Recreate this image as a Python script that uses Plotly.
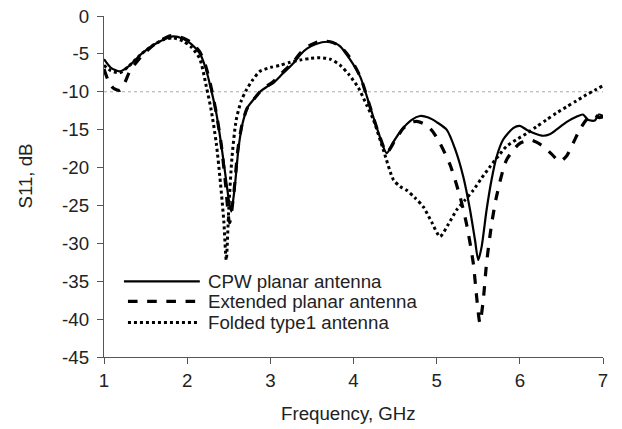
import plotly.graph_objects as go

# CPW planar antenna (solid)
cpw_f = [1.0, 1.08, 1.19, 1.3, 1.45, 1.6, 1.72, 1.83, 1.95, 2.05, 2.15, 2.22, 2.29, 2.35, 2.41, 2.46, 2.5, 2.53, 2.57, 2.62, 2.67, 2.73, 2.8, 2.875, 2.95, 3.03, 3.15, 3.28, 3.36, 3.44, 3.55, 3.68, 3.78, 3.84, 3.95, 4.08, 4.2, 4.3, 4.4, 4.48, 4.58, 4.7, 4.8, 4.9, 5.0, 5.12, 5.22, 5.32, 5.4, 5.46, 5.5, 5.54, 5.6, 5.66, 5.72, 5.8, 5.92, 6.0, 6.08, 6.18, 6.28, 6.36, 6.44, 6.56, 6.68, 6.76, 6.82, 6.9, 6.95, 7.0]
cpw_db = [-5.7, -6.8, -7.3, -6.6, -5.0, -3.8, -3.1, -2.7, -3.0, -3.7, -4.9, -6.8, -9.8, -12.8, -17.0, -21.0, -24.2, -25.8, -22.8, -17.2, -14.0, -12.0, -11.0, -10.0, -9.4, -8.9, -7.6, -6.2, -5.1, -4.3, -3.7, -3.4, -3.6, -4.0, -5.6, -8.0, -12.0, -15.4, -18.1, -16.6, -15.0, -13.7, -13.2, -13.4, -14.0, -15.0, -17.5, -21.2, -25.5, -29.5, -32.2, -30.5, -25.6, -21.6, -18.6, -16.3, -14.8, -14.5, -15.0, -15.5, -15.8, -15.6, -15.0, -14.0, -13.3, -13.0, -13.7, -13.8, -13.0, -13.2]

# Extended planar antenna (dashed)
ext_f = [1.0, 1.05, 1.11, 1.19, 1.25, 1.31, 1.45, 1.6, 1.72, 1.81, 1.95, 2.05, 2.15, 2.22, 2.29, 2.35, 2.41, 2.46, 2.51, 2.56, 2.61, 2.66, 2.72, 2.8, 2.875, 2.95, 3.03, 3.15, 3.28, 3.36, 3.44, 3.55, 3.65, 3.75, 3.84, 3.95, 4.08, 4.2, 4.3, 4.4, 4.5, 4.6, 4.68, 4.76, 4.86, 4.95, 5.04, 5.16, 5.28, 5.36, 5.44, 5.48, 5.52, 5.56, 5.6, 5.66, 5.72, 5.84, 6.0, 6.14, 6.28, 6.38, 6.48, 6.56, 6.64, 6.72, 6.8, 6.88, 6.95, 7.0]
ext_db = [-7.0, -8.5, -9.5, -9.8, -8.8, -7.3, -5.3, -3.8, -3.0, -2.6, -2.9, -3.5, -4.7, -6.5, -9.5, -12.8, -17.0, -22.0, -27.3, -23.5, -17.6, -14.3, -12.2, -11.0, -10.0, -9.3, -8.7, -7.4, -6.0, -4.9, -4.1, -3.5, -3.3, -3.5, -4.0, -5.4, -8.0, -12.0, -15.4, -18.0, -16.4, -14.8, -14.1, -13.9, -14.3, -15.2, -16.8, -19.6, -23.8, -27.5, -32.6, -37.0, -40.5, -37.5, -32.6, -27.5, -23.8, -19.0, -16.8, -16.4, -17.2, -18.2, -19.2, -18.5, -16.8, -15.0, -13.7, -13.0, -13.4, -13.3]

# Folded type1 antenna (dotted)
fold_f = [1.0, 1.08, 1.19, 1.3, 1.45, 1.6, 1.72, 1.83, 1.95, 2.05, 2.15, 2.23, 2.29, 2.35, 2.4, 2.44, 2.47, 2.5, 2.54, 2.59, 2.65, 2.71, 2.79, 2.875, 3.0, 3.12, 3.24, 3.36, 3.48, 3.6, 3.72, 3.84, 3.95, 4.06, 4.16, 4.24, 4.36, 4.48, 4.56, 4.64, 4.74, 4.84, 4.94, 5.04, 5.14, 5.24, 5.34, 5.44, 5.54, 5.64, 5.74, 5.84, 5.96, 6.08, 6.2, 6.32, 6.44, 6.56, 6.68, 6.8, 6.9, 7.0]
fold_db = [-6.5, -7.2, -7.5, -6.6, -5.0, -3.8, -3.1, -2.9, -3.3, -4.1, -5.6, -9.3, -12.5, -16.8, -22.0, -27.0, -32.2, -25.5, -18.5, -13.7, -11.2, -9.8, -8.4, -7.3, -6.8, -6.5, -6.1, -5.8, -5.6, -5.5, -5.7, -6.5, -7.8, -9.5, -11.8, -13.7, -17.7, -21.6, -22.5, -23.0, -24.0, -25.2, -27.2, -29.1, -27.5, -25.6, -24.3, -23.0, -21.4, -19.9, -18.5, -17.2, -16.3, -15.5, -14.6, -13.7, -12.8, -12.0, -11.2, -10.4, -9.8, -9.2]

series_names = ["CPW planar antenna", "Extended planar antenna", "Folded type1 antenna"]
series_dash = ["solid", "dash", "dot"]
series_width = [2.2, 3.2, 3.0]

x_ticks = [1, 2, 3, 4, 5, 6, 7]
y_ticks = [0, -5, -10, -15, -20, -25, -30, -35, -40, -45]
y_tick_text = ["0", "-5", "-10", "-15", "-20", "-25", "-30", "-35", "-40", "-45"]
ref_level = -10

FONT = "Liberation Sans, Arial, sans-serif"
FS = 18.7
TXT = "#222222"

fig = go.Figure()
for f, d, name, dash, w in zip([cpw_f, ext_f, fold_f], [cpw_db, ext_db, fold_db],
                               series_names, series_dash, series_width):
    fig.add_trace(go.Scatter(x=f, y=d, mode="lines", name=name,
                             line=dict(color="black", dash=dash, width=w, shape="spline", smoothing=0.7),
                             showlegend=False))

# -10 dB reference line
fig.add_shape(type="line", xref="paper", yref="y", x0=0, x1=1, y0=ref_level, y1=ref_level,
              line=dict(color="#aaaaaa", width=1, dash="dot"), layer="below")

# custom legend
leg_y = [0.222, 0.163, 0.101]
leg_x0 = [0.04, 0.048, 0.048]
for yy, x0, name, dash, w in zip(leg_y, leg_x0, series_names, series_dash, series_width):
    fig.add_shape(type="line", xref="paper", yref="paper", x0=x0, x1=0.192, y0=yy, y1=yy,
                  line=dict(color="black", dash=dash, width=w))
    fig.add_annotation(xref="paper", yref="paper", x=0.204, y=yy, text=name, showarrow=False,
                       xanchor="left", yanchor="middle", font=dict(family=FONT, size=FS, color=TXT))

# axis titles
fig.add_annotation(xref="paper", yref="paper", x=0.489, y=-0.167, text="Frequency, GHz", showarrow=False,
                   xanchor="center", yanchor="middle", font=dict(family=FONT, size=FS, color=TXT))
fig.add_annotation(xref="paper", yref="paper", x=-0.157, y=0.531, text="S11, dB", showarrow=False,
                   textangle=-90, xanchor="center", yanchor="middle", font=dict(family=FONT, size=FS, color=TXT))

axis_common = dict(showline=True, linecolor="#555555", linewidth=1.3, ticks="outside", ticklen=6,
                   tickcolor="#555555", showgrid=False, zeroline=False, automargin=False,
                   ticklabeloverflow="allow",
                   tickfont=dict(family=FONT, size=FS, color=TXT))

fig.update_layout(
    width=622, height=429,
    margin=dict(l=104, r=19, t=16, b=72),
    paper_bgcolor="white", plot_bgcolor="white",
    xaxis=dict(range=[1, 7], tickvals=x_ticks, ticktext=[str(v) for v in x_ticks], **axis_common),
    yaxis=dict(range=[-45, 0], tickvals=y_ticks, ticktext=y_tick_text, ticklabelstandoff=4, **axis_common),
)

# remove the default page-body margin so the figure sits at the window's top-left corner
fig.write_html("out.html", config={"displayModeBar": False},
               post_script="document.body.style.margin='0';document.body.style.overflow='hidden';")
